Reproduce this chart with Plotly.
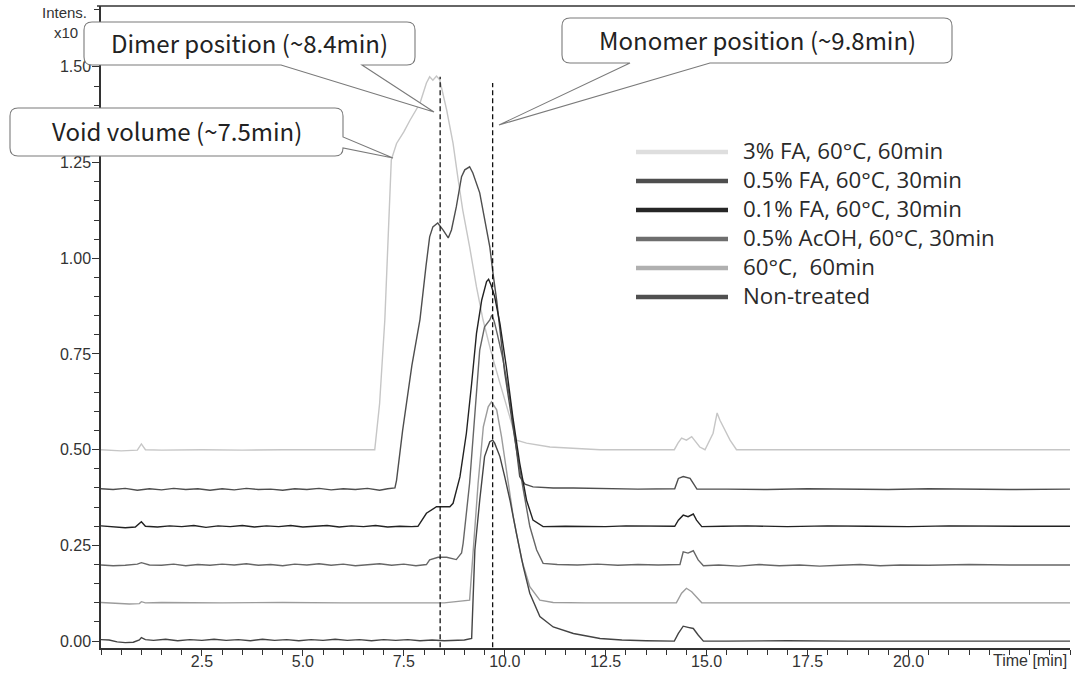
import plotly.graph_objects as go

# ---------------- data ----------------
FA3_T = [0.0, 0.5, 0.9, 1.0, 1.1, 1.5, 2.5, 3.5, 4.5, 5.5, 6.5, 6.78, 6.9, 7.03, 7.19,
         7.32, 7.5, 7.65, 7.9, 8.06, 8.14, 8.22, 8.31, 8.39, 8.56, 8.72, 8.84, 8.96, 9.13, 9.3,
         9.46, 9.65, 9.88, 10.13, 10.29, 10.54, 11.12, 12.36, 14.2, 14.29, 14.38, 14.5, 14.63, 14.83, 14.96,
         15.16, 15.26, 15.33, 15.58, 15.74, 16.5, 20.0, 24.0]
FA3_Y = [0.500, 0.497, 0.499, 0.515, 0.500, 0.499, 0.500, 0.499, 0.500, 0.500, 0.499, 0.500, 0.62, 0.84, 1.257,
         1.30, 1.33, 1.36, 1.405, 1.458, 1.474, 1.465, 1.476, 1.466, 1.388, 1.30, 1.21, 1.126, 1.03, 0.925,
         0.84, 0.76, 0.674, 0.585, 0.525, 0.517, 0.507, 0.500, 0.500, 0.517, 0.53, 0.525, 0.534, 0.507, 0.500,
         0.543, 0.596, 0.577, 0.525, 0.500, 0.500, 0.500, 0.500]

FA05_T = [0.0, 0.3, 0.6, 0.9, 1.2, 1.5, 1.8, 2.1, 2.4, 2.7, 3.0, 3.3, 3.6, 3.9, 4.2,
          4.5, 4.8, 5.1, 5.4, 5.7, 6.0, 6.3, 6.6, 6.9, 7.1, 7.28, 7.32, 7.47, 7.7, 7.9,
          8.05, 8.14, 8.22, 8.34, 8.47, 8.6, 8.68, 8.8, 8.93, 9.01, 9.13, 9.21, 9.38, 9.5, 9.63,
          9.71, 9.8, 10.0, 10.2, 10.29, 10.37, 10.5, 10.7, 11.2, 11.7, 12.5, 13.3, 14.21, 14.3, 14.42,
          14.59, 14.67, 14.76, 15.5, 16.5, 17.5, 18.5, 19.5, 20.5, 21.5, 22.5, 24.0]
FA05_Y = [0.398, 0.396, 0.399, 0.394, 0.398, 0.395, 0.399, 0.396, 0.398, 0.394, 0.398, 0.395, 0.399, 0.396, 0.397,
          0.394, 0.398, 0.396, 0.399, 0.395, 0.398, 0.396, 0.399, 0.394, 0.398, 0.400, 0.42, 0.55, 0.72, 0.84,
          0.98, 1.056, 1.082, 1.092, 1.074, 1.053, 1.074, 1.134, 1.213, 1.231, 1.239, 1.223, 1.171, 1.108, 1.03,
          0.96, 0.89, 0.70, 0.57, 0.50, 0.43, 0.41, 0.403, 0.400, 0.400, 0.398, 0.397, 0.398, 0.425, 0.43,
          0.425, 0.412, 0.397, 0.397, 0.396, 0.398, 0.397, 0.396, 0.398, 0.397, 0.396, 0.397]

FA01_T = [0.0, 0.3, 0.6, 0.85, 1.0, 1.1, 1.4, 1.7, 2.0, 2.3, 2.6, 2.9, 3.2, 3.5, 3.8,
          4.1, 4.4, 4.7, 5.0, 5.3, 5.6, 5.9, 6.2, 6.5, 6.8, 7.1, 7.4, 7.7, 7.85, 8.06,
          8.31, 8.64, 8.72, 8.89, 9.05, 9.18, 9.3, 9.43, 9.55, 9.6, 9.66, 9.75, 9.88, 10.04, 10.2,
          10.37, 10.54, 10.7, 10.95, 11.5, 12.0, 12.5, 13.0, 13.6, 14.21, 14.3, 14.42, 14.54, 14.67, 14.75,
          14.88, 15.4, 16.0, 17.0, 18.0, 19.0, 20.0, 21.0, 22.0, 23.0, 24.0]
FA01_Y = [0.301, 0.299, 0.296, 0.298, 0.312, 0.300, 0.298, 0.301, 0.299, 0.302, 0.297, 0.301, 0.299, 0.302, 0.298,
          0.301, 0.299, 0.302, 0.298, 0.300, 0.302, 0.298, 0.301, 0.299, 0.302, 0.298, 0.300, 0.299, 0.300, 0.334,
          0.351, 0.351, 0.36, 0.429, 0.543, 0.673, 0.804, 0.891, 0.939, 0.945, 0.930, 0.90, 0.83, 0.716, 0.585,
          0.465, 0.368, 0.316, 0.299, 0.300, 0.300, 0.299, 0.301, 0.300, 0.300, 0.316, 0.329, 0.325, 0.332, 0.316,
          0.299, 0.300, 0.301, 0.299, 0.301, 0.300, 0.299, 0.301, 0.300, 0.300, 0.300]

ACOH_T = [0.0, 0.3, 0.6, 0.9, 1.0, 1.2, 1.5, 1.8, 2.1, 2.4, 2.7, 3.0, 3.3, 3.6, 3.9,
          4.2, 4.5, 4.8, 5.1, 5.4, 5.7, 6.0, 6.3, 6.6, 6.9, 7.2, 7.5, 7.8, 8.06, 8.14,
          8.35, 8.56, 8.8, 8.93, 8.97, 9.13, 9.26, 9.38, 9.5, 9.63, 9.68, 9.74, 9.82, 9.96, 10.13,
          10.29, 10.46, 10.62, 10.79, 10.95, 11.3, 11.8, 12.3, 12.8, 13.3, 13.8, 14.34, 14.42, 14.54, 14.67,
          14.79, 14.92, 15.3, 15.8, 16.3, 16.8, 17.3, 17.8, 18.3, 18.8, 19.3, 19.8, 20.5, 21.5, 22.5, 24.0]
ACOH_Y = [0.199, 0.197, 0.198, 0.201, 0.205, 0.199, 0.198, 0.201, 0.197, 0.200, 0.198, 0.201, 0.199, 0.202, 0.198,
          0.200, 0.197, 0.201, 0.199, 0.202, 0.198, 0.201, 0.197, 0.200, 0.202, 0.198, 0.201, 0.197, 0.200, 0.212,
          0.219, 0.219, 0.213, 0.23, 0.256, 0.413, 0.586, 0.76, 0.821, 0.839, 0.852, 0.835, 0.80, 0.734, 0.63,
          0.50, 0.395, 0.30, 0.238, 0.203, 0.200, 0.199, 0.201, 0.198, 0.200, 0.199, 0.200, 0.233, 0.23, 0.236,
          0.212, 0.197, 0.199, 0.196, 0.200, 0.197, 0.199, 0.196, 0.198, 0.200, 0.197, 0.199, 0.198, 0.200, 0.199, 0.199]

C60_T = [0.0, 0.5, 0.7, 0.95, 1.0, 1.1, 1.5, 3.0, 4.5, 6.0, 7.5, 8.5, 9.13, 9.22, 9.34,
         9.47, 9.59, 9.67, 9.8, 9.92, 10.04, 10.21, 10.42, 10.62, 10.87, 11.2, 12.0, 14.25, 14.38, 14.5,
         14.63, 14.88, 16.0, 20.0, 24.0]
C60_Y = [0.101, 0.099, 0.097, 0.098, 0.103, 0.100, 0.101, 0.100, 0.101, 0.100, 0.101, 0.100, 0.107, 0.238, 0.412,
         0.56, 0.612, 0.625, 0.604, 0.534, 0.447, 0.325, 0.212, 0.142, 0.107, 0.101, 0.100, 0.100, 0.125, 0.138,
         0.129, 0.100, 0.100, 0.100, 0.100]

NT_T = [0.0, 0.2, 0.4, 0.6, 0.8, 0.95, 1.0, 1.1, 1.3, 1.6, 1.9, 2.2, 2.5, 2.8, 3.1,
        3.4, 3.7, 4.0, 4.3, 4.6, 4.9, 5.2, 5.5, 5.8, 6.1, 6.4, 6.7, 7.0, 7.3, 7.6,
        7.9, 8.2, 8.5, 8.8, 9.0, 9.18, 9.26, 9.38, 9.5, 9.63, 9.7, 9.75, 9.88, 10.0, 10.13,
        10.29, 10.46, 10.62, 10.87, 11.2, 11.7, 12.36, 12.9, 13.5, 14.2, 14.3, 14.42, 14.54, 14.67, 14.79,
        14.92, 15.5, 17.0, 18.5, 20.0, 21.0, 22.5, 24.0]
NT_Y = [0.004, 0.003, -0.002, -0.004, -0.003, 0.003, 0.009, 0.004, 0.002, 0.005, 0.001, 0.004, 0.002, 0.005, 0.002,
        0.004, 0.001, 0.005, 0.002, 0.004, 0.001, 0.004, 0.002, 0.005, 0.002, 0.004, 0.001, 0.004, 0.002, 0.004,
        0.001, 0.003, 0.001, 0.002, 0.003, 0.007, 0.238, 0.368, 0.482, 0.521, 0.525, 0.517, 0.482, 0.429, 0.368,
        0.281, 0.194, 0.125, 0.064, 0.037, 0.02, 0.007, 0.003, 0.001, 0.0, 0.02, 0.039, 0.036, 0.033, 0.016,
        0.0, 0.0, 0.001, 0.0, 0.0, 0.001, 0.0, 0.0]

LABELS = ["3% FA, 60°C, 60min", "0.5% FA, 60°C, 30min", "0.1% FA, 60°C, 30min",
          "0.5% AcOH, 60°C, 30min", "60°C,\u00a0 60min", "Non-treated"]
SERIES_T = [FA3_T, FA05_T, FA01_T, ACOH_T, C60_T, NT_T]
SERIES_Y = [FA3_Y, FA05_Y, FA01_Y, ACOH_Y, C60_Y, NT_Y]

DIMER_T = 8.4
MONOMER_T = 9.7
DIMER_TOP = 1.474
MONOMER_TOP = 1.458
DASH_BOTTOM = -0.016

X_TICKS = [2.5, 5.0, 7.5, 10.0, 12.5, 15.0, 17.5, 20.0]
Y_TICKS = [0.0, 0.25, 0.5, 0.75, 1.0, 1.25, 1.5]
X_RANGE = [0.0, 24.0]
Y_RANGE = [-0.018, 1.659]

CALLOUT_TEXT = ["Dimer position (~8.4min)", "Void volume (~7.5min)", "Monomer position (~9.8min)"]

# ---------------- styles ----------------
TRACE_COLORS = ["#c6c6c6", "#4e4e4e", "#222222", "#666666", "#9c9c9c", "#444444"]
LEGEND_COLORS = ["#dedede", "#4e4e4e", "#262626", "#6e6e6e", "#b0b0b0", "#505050"]
DRAW_ORDER = [0, 4, 3, 5, 1, 2]

W, H = 1075, 676
L, R, T, B = 101, 1070, 6, 648


def px(x):
    return (x - L) / (R - L)


def py(y):
    return (B - y) / (B - T)


for t, y in zip(SERIES_T, SERIES_Y):
    assert len(t) == len(y)

fig = go.Figure()
for i in DRAW_ORDER:
    fig.add_trace(go.Scatter(x=SERIES_T[i], y=SERIES_Y[i], mode="lines",
                             line=dict(color=TRACE_COLORS[i], width=1.4),
                             showlegend=False, hoverinfo="skip"))

shapes = []
# dashed reference lines
for xt, top in [(DIMER_T, DIMER_TOP), (MONOMER_T, MONOMER_TOP)]:
    shapes.append(dict(type="line", xref="x", yref="y", x0=xt, x1=xt, y0=DASH_BOTTOM, y1=top,
                       line=dict(color="#111111", width=1.3, dash="5px,3px"), layer="above"))

# top frame line
shapes.append(dict(type="line", xref="paper", yref="paper", x0=px(97), x1=px(1075), y0=1, y1=1,
                   line=dict(color="#333333", width=1.5), layer="above"))


def callout_path(x0, y0, x1, y1, r, side, a, b, tip):
    pts = []
    pts.append(f"M{px(x0 + r)},{py(y0)}")
    pts.append(f"L{px(x1 - r)},{py(y0)}")
    pts.append(f"Q{px(x1)},{py(y0)} {px(x1)},{py(y0 + r)}")
    if side == "right":
        pts.append(f"L{px(x1)},{py(a)}")
        pts.append(f"L{px(tip[0])},{py(tip[1])}")
        pts.append(f"L{px(x1)},{py(b)}")
    pts.append(f"L{px(x1)},{py(y1 - r)}")
    pts.append(f"Q{px(x1)},{py(y1)} {px(x1 - r)},{py(y1)}")
    if side == "bottom":
        pts.append(f"L{px(b)},{py(y1)}")
        pts.append(f"L{px(tip[0])},{py(tip[1])}")
        pts.append(f"L{px(a)},{py(y1)}")
    pts.append(f"L{px(x0 + r)},{py(y1)}")
    pts.append(f"Q{px(x0)},{py(y1)} {px(x0)},{py(y1 - r)}")
    pts.append(f"L{px(x0)},{py(y0 + r)}")
    pts.append(f"Q{px(x0)},{py(y0)} {px(x0 + r)},{py(y0)}")
    pts.append("Z")
    return " ".join(pts)


CALLOUT_BOXES = [
    (84, 22, 415, 65, 8, "bottom", 281, 362, (434, 112)),
    (10, 108, 343, 156, 8, "right", 137, 148, (393, 158)),
    (562, 18, 952, 63, 8, "bottom", 630, 710, (499, 125)),
]

annotations = []
for txt, (x0, y0, x1, y1, r, side, a, b, tip) in zip(CALLOUT_TEXT, CALLOUT_BOXES):
    shapes.append(dict(type="path", xref="paper", yref="paper",
                       path=callout_path(x0, y0, x1, y1, r, side, a, b, tip),
                       fillcolor="white", line=dict(color="#7a7a7a", width=1.1), layer="above"))
    annotations.append(dict(xref="paper", yref="paper", x=px((x0 + x1) / 2), y=py((y0 + y1) / 2 - 1),
                            text=txt, showarrow=False, xanchor="center", yanchor="middle",
                            font=dict(family="Noto Sans CJK JP", size=24, color="#222222")))

# legend (drawn manually to get long thick swatches); text as one block, 1.3em line step = 29 px
LEG_Y = [152, 181, 210, 239, 268, 297]
LEG_FONT_SIZE = 29 / 1.3
for col, ly in zip(LEGEND_COLORS, LEG_Y):
    shapes.append(dict(type="line", xref="paper", yref="paper", x0=px(636), x1=px(728),
                       y0=py(ly), y1=py(ly), line=dict(color=col, width=4.5), layer="above"))
annotations.append(dict(xref="paper", yref="paper", x=px(741), y=py((LEG_Y[0] + LEG_Y[-1]) / 2 - 1.5),
                        text="<br>".join(LABELS), align="left",
                        showarrow=False, xanchor="left", yanchor="middle",
                        font=dict(family="Open Sans", size=LEG_FONT_SIZE, color="#2a2a2a")))

AX_FONT = dict(family="Liberation Sans, Arial", size=16, color="#333333")
annotations.append(dict(xref="paper", yref="paper", x=px(89), y=py(12), text="Intens.",
                        showarrow=False, xanchor="right", yanchor="middle",
                        font=dict(family="Liberation Sans, Arial", size=15, color="#333333")))
annotations.append(dict(xref="paper", yref="paper", x=px(80), y=py(33), text="x10",
                        showarrow=False, xanchor="right", yanchor="middle",
                        font=dict(family="Liberation Sans, Arial", size=15, color="#333333")))
annotations.append(dict(xref="paper", yref="paper", x=px(1069), y=py(660), text="Time [min]",
                        showarrow=False, xanchor="right", yanchor="middle", font=AX_FONT))

fig.update_layout(
    width=W, height=H,
    margin=dict(l=L, r=W - R, t=T, b=H - B, pad=0, autoexpand=False),
    paper_bgcolor="white", plot_bgcolor="white",
    showlegend=False,
    shapes=shapes, annotations=annotations,
    xaxis=dict(range=X_RANGE, showgrid=False, zeroline=False, showline=True, automargin=False,
               linecolor="#333333", linewidth=1.5,
               tickmode="array", tickvals=X_TICKS, tickformat=".1f",
               ticks="outside", ticklen=6, tickwidth=1.2, tickcolor="#333333",
               tickfont=AX_FONT, ticklabelstandoff=-8,
               minor=dict(tickmode="linear", tick0=0, dtick=0.5, ticks="outside",
                          ticklen=5, tickwidth=1.2, tickcolor="#333333", showgrid=False)),
    yaxis=dict(range=Y_RANGE, showgrid=False, zeroline=False, showline=True, automargin=False,
               linecolor="#333333", linewidth=1.5,
               tickmode="array", tickvals=Y_TICKS, tickformat=".2f",
               ticks="outside", ticklen=7, tickwidth=1.2, tickcolor="#333333",
               tickfont=AX_FONT, ticklabelstandoff=-2,
               minor=dict(tickmode="linear", tick0=0, dtick=0.05, ticks="outside",
                          ticklen=5, tickwidth=1.2, tickcolor="#333333", showgrid=False)),
)

fig.write_html("out.html")
